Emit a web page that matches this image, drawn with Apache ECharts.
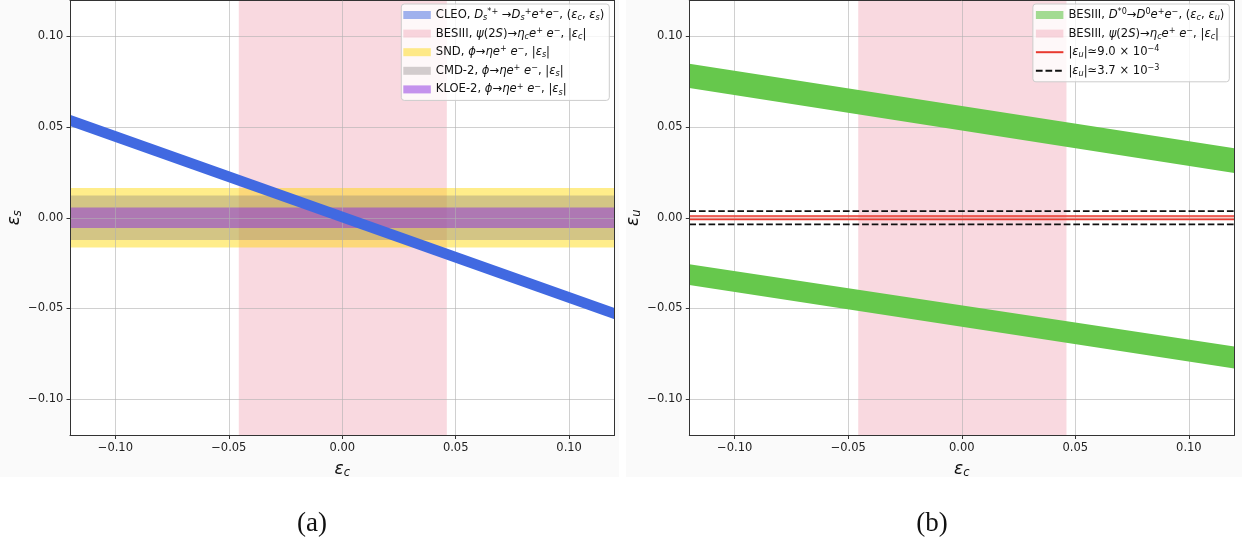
<!DOCTYPE html>
<html><head><meta charset="utf-8">
<script src="https://cdn.jsdelivr.net/npm/echarts@6/dist/echarts.min.js"></script>
<style>html,body{margin:0;padding:0;background:#fff}#c{width:1242px;height:548px}</style>
</head><body><div id="c"></div>
<script>
// ---------- data ----------
const X_RANGE = [-0.12, 0.12];
const Y_RANGE = [-0.12, 0.12];
const tickValues = [-0.10, -0.05, 0.00, 0.05, 0.10];
const bandX = [-0.12, 0.12];
// BESIII psi(2S) -> eta_c e+ e- : |eps_c| allowed interval
const besiiiEpsC = [-0.0456, 0.0461];
// panel (a)
const cleoLow  = [0.0506, -0.0559];
const cleoHigh = [0.0568, -0.0497];
const sndHalf = 0.0164;
const cmd2Half = 0.0122;
const kloe2Half = 0.0056;
// panel (b)
const d0UpperLow  = [0.0715, 0.0246];
const d0UpperHigh = [0.0848, 0.0383];
const d0LowerLow  = [-0.0371, -0.0831];
const d0LowerHigh = [-0.0256, -0.0710];
const epsU1 = 9.0e-4;
const epsU2 = 3.7e-3;

// ---------- helpers ----------
const FONT = 'DejaVu Sans';
function fmt(v){ return v.toFixed(2).replace('-', '\u2212'); }

function band(name, x, low, high, fill, legendColor, z, gi){
  return {
    type: 'custom', name: name, xAxisIndex: gi*3, yAxisIndex: gi*3, z: z, clip: true,
    silent: true,
    dimensions: ['x0','l0','h0','x1','l1','h1'],
    encode: {x: [0,3], y: [1,2,4,5]},
    itemStyle: {color: legendColor},
    data: [[x[0], low[0], high[0], x[1], low[1], high[1]]],
    renderItem: function(params, api){
      const pts = [
        api.coord([api.value(0), api.value(2)]),
        api.coord([api.value(3), api.value(5)]),
        api.coord([api.value(3), api.value(4)]),
        api.coord([api.value(0), api.value(1)])
      ];
      return {type: 'polygon', shape: {points: pts}, style: {fill: fill}};
    }
  };
}
function hline(name, y, color, width, type, z, gi){
  return {
    type: 'line', name: name, xAxisIndex: gi*3, yAxisIndex: gi*3, z: z,
    symbol: 'none', silent: true, animation: false,
    lineStyle: {color: color, width: width, type: type},
    itemStyle: {color: color},
    data: [[bandX[0], y], [bandX[1], y]]
  };
}

const labels = {
  'CLEO': 'CLEO, {i|D}{sb|s}{sp|*+} \u2192{i|D}{sb|s}{sp|+}{i|e}{sp|+}{i|e}{sp|\u2212}, ({i|\u03b5}{sb|c}, {i|\u03b5}{sb|s})',
  'BESIII-psi': 'BESIII, {i|\u03c8}(2{i|S})\u2192{i|\u03b7}{sb|c}{i|e}{sp|+} {i|e}{sp|\u2212}, |{i|\u03b5}{sb|c}|',
  'SND': 'SND, {i|\u03d5}\u2192{i|\u03b7e}{sp|+} {i|e}{sp|\u2212}, |{i|\u03b5}{sb|s}|',
  'CMD-2': 'CMD-2, {i|\u03d5}\u2192{i|\u03b7e}{sp|+} {i|e}{sp|\u2212}, |{i|\u03b5}{sb|s}|',
  'KLOE-2': 'KLOE-2, {i|\u03d5}\u2192{i|\u03b7e}{sp|+} {i|e}{sp|\u2212}, |{i|\u03b5}{sb|s}|',
  'BESIII-D0': 'BESIII, {i|D}{sp|*0}\u2192{i|D}{sp|0}{i|e}{sp|+}{i|e}{sp|\u2212}, ({i|\u03b5}{sb|c}, {i|\u03b5}{sb|u})',
  'BESIII-psi-b': 'BESIII, {i|\u03c8}(2{i|S})\u2192{i|\u03b7}{sb|c}{i|e}{sp|+} {i|e}{sp|\u2212}, |{i|\u03b5}{sb|c}|',
  'epsU1': '|{i|\u03b5}{sb|u}|\u22439.0 \u00d7 10{sp|\u22124}',
  'epsU2': '|{i|\u03b5}{sb|u}|\u22433.7 \u00d7 10{sp|\u22123}'
};
const legendRich = {
  i: {fontStyle: 'italic', fontFamily: FONT, fontSize: 11.6, lineHeight: 14, color: '#111'},
  sb: {fontStyle: 'italic', fontFamily: FONT, fontSize: 8.1, lineHeight: 8, verticalAlign: 'bottom', color: '#111'},
  sp: {fontFamily: FONT, fontSize: 8.1, lineHeight: 8, verticalAlign: 'top', color: '#111'}
};
function legend(names, right, gi){
  return {
    show: true, orient: 'vertical', right: right, top: 4, z: 10,
    padding: [4, 5, 4, 2], itemGap: 4.6, itemWidth: 27.5, itemHeight: 8,
    backgroundColor: 'rgba(255,255,255,0.8)', borderColor: '#cccccc', borderWidth: 1, borderRadius: 3,
    selectedMode: false,
    textStyle: {fontFamily: FONT, fontSize: 11.6, lineHeight: 14, color: '#111', rich: legendRich},
    formatter: function(n){ return labels[n]; },
    data: names
  };
}
const nameRich = {
  i: {fontStyle: 'italic', fontFamily: FONT, fontSize: 17, color: '#111'},
  sb: {fontStyle: 'italic', fontFamily: FONT, fontSize: 11.5, verticalAlign: 'bottom', lineHeight: 10, color: '#111'}
};
function mainX(gi){
  return {
    type: 'value', gridIndex: gi, min: X_RANGE[0], max: X_RANGE[1], z: 2, position: 'bottom',
    name: '{i|\u03b5}{sb|c}', nameLocation: 'middle', nameGap: 25,
    nameTextStyle: {rich: nameRich, lineHeight: 19},
    axisLine: {show: false, onZero: false},
    axisTick: {show: true, inside: false, length: 3.5, customValues: tickValues, lineStyle: {color: '#333'}},
    axisLabel: {customValues: tickValues, formatter: fmt, margin: 7, fontFamily: FONT, fontSize: 11.5, color: '#222'},
    splitLine: {show: true, lineStyle: {color: 'rgba(176,176,176,0.6)', width: 1}}
  };
}
function mainY(gi, sub){
  return {
    type: 'value', gridIndex: gi, min: Y_RANGE[0], max: Y_RANGE[1], z: 2, position: 'left',
    name: '{i|\u03b5}{sb|' + sub + '}', nameLocation: 'middle', nameGap: 45, nameRotate: 90,
    nameTextStyle: {rich: nameRich, lineHeight: 19},
    axisLine: {show: false, onZero: false},
    axisTick: {show: true, inside: false, length: 3.5, customValues: tickValues, lineStyle: {color: '#333'}},
    axisLabel: {customValues: tickValues, formatter: fmt, margin: 6.7, fontFamily: FONT, fontSize: 11.5, color: '#222'},
    splitLine: {show: true, lineStyle: {color: 'rgba(176,176,176,0.6)', width: 1}}
  };
}
function frameAxis(kind, gi, pos){
  const range = kind === 'x' ? X_RANGE : Y_RANGE;
  return {
    type: 'value', gridIndex: gi, position: pos, min: range[0], max: range[1], z: 6,
    axisLine: {show: true, onZero: false, lineStyle: {color: '#333', width: 1}},
    axisTick: {show: false}, axisLabel: {show: false}, splitLine: {show: false}
  };
}

const series = [
  // panel (a)
  band('BESIII-psi', besiiiEpsC, [Y_RANGE[0], Y_RANGE[0]], [Y_RANGE[1], Y_RANGE[1]], 'rgba(238,150,168,0.36)', 'rgba(238,150,168,0.36)', 1, 0),
  band('SND', bandX, [-sndHalf, -sndHalf], [sndHalf, sndHalf], 'rgba(255,215,0,0.46)', 'rgba(255,215,0,0.46)', 1, 0),
  band('CMD-2', bandX, [-cmd2Half, -cmd2Half], [cmd2Half, cmd2Half], 'rgba(128,122,122,0.35)', 'rgba(128,122,122,0.35)', 1, 0),
  band('KLOE-2', bandX, [-kloe2Half, -kloe2Half], [kloe2Half, kloe2Half], 'rgba(138,43,226,0.5)', 'rgba(138,43,226,0.5)', 1, 0),
  band('CLEO', bandX, cleoLow, cleoHigh, '#4169e1', 'rgba(65,105,225,0.5)', 3, 0),
  // panel (b)
  band('BESIII-psi-b', besiiiEpsC, [Y_RANGE[0], Y_RANGE[0]], [Y_RANGE[1], Y_RANGE[1]], 'rgba(238,150,168,0.36)', 'rgba(238,150,168,0.36)', 1, 1),
  band('BESIII-D0', bandX, d0UpperLow, d0UpperHigh, '#66c84c', 'rgba(102,200,76,0.6)', 3, 1),
  band('BESIII-D0', bandX, d0LowerLow, d0LowerHigh, '#66c84c', 'rgba(102,200,76,0.6)', 3, 1),
  band('epsU1-fill', bandX, [-epsU1, -epsU1], [epsU1, epsU1], 'rgba(235,70,55,0.3)', 'rgba(235,70,55,0.3)', 4, 1),
  hline('epsU1', epsU1, '#e8392f', 1.5, 'solid', 4, 1),
  hline('epsU1', -epsU1, '#e8392f', 1.5, 'solid', 4, 1),
  hline('epsU2', epsU2, '#111111', 1.8, [6.7, 2.9], 4, 1),
  hline('epsU2', -epsU2, '#111111', 1.8, [6.7, 2.9], 4, 1)
];

const hiddenSymbol = {color: 'rgba(0,0,0,0)', borderWidth: 0, borderColor: 'rgba(0,0,0,0)'};
const option = {
  animation: false,
  backgroundColor: '#ffffff',
  graphic: [
    {type: 'rect', z: -10, silent: true, shape: {x: 0, y: 0, width: 619, height: 477}, style: {fill: '#fafafa'}},
    {type: 'rect', z: -10, silent: true, shape: {x: 626, y: 0, width: 616, height: 477}, style: {fill: '#fafafa'}},
    {type: 'text', x: 312, y: 524, silent: true, style: {text: '(a)', fontFamily: 'Liberation Serif', fontSize: 27, fill: '#111', align: 'center', verticalAlign: 'middle', textAlign: 'center', textVerticalAlign: 'middle'}},
    {type: 'text', x: 932, y: 524, silent: true, style: {text: '(b)', fontFamily: 'Liberation Serif', fontSize: 27, fill: '#111', align: 'center', verticalAlign: 'middle', textAlign: 'center', textVerticalAlign: 'middle'}}
  ],
  grid: [
    {left: 70, top: -2, width: 544.5, height: 437.5, show: true, backgroundColor: '#ffffff', borderWidth: 0},
    {left: 689.3, top: -2, width: 545, height: 437.5, show: true, backgroundColor: '#ffffff', borderWidth: 0}
  ],
  xAxis: [mainX(0), frameAxis('x', 0, 'bottom'), frameAxis('x', 0, 'top'),
          mainX(1), frameAxis('x', 1, 'bottom'), frameAxis('x', 1, 'top')],
  yAxis: [mainY(0, 's'), frameAxis('y', 0, 'left'), frameAxis('y', 0, 'right'),
          mainY(1, 'u'), frameAxis('y', 1, 'left'), frameAxis('y', 1, 'right')],
  legend: [
    legend([{name:'CLEO', icon:'rect'}, {name:'BESIII-psi', icon:'rect'}, {name:'SND', icon:'rect'}, {name:'CMD-2', icon:'rect'}, {name:'KLOE-2', icon:'rect'}], 632.7, 0),
    legend([{name:'BESIII-D0', icon:'rect'}, {name:'BESIII-psi-b', icon:'rect'}, {name:'epsU1', itemStyle: hiddenSymbol}, {name:'epsU2', itemStyle: hiddenSymbol}], 12.7, 1)
  ],
  series: series
};
const chart = echarts.init(document.getElementById('c'), null, {renderer: 'canvas'});
chart.setOption(option);
</script></body></html>
